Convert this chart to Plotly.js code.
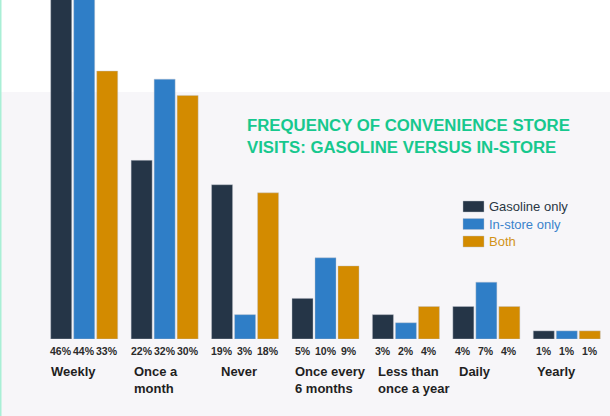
<!DOCTYPE html>
<html>
<head>
<meta charset="utf-8">
<script src="https://cdn.plot.ly/plotly-3.0.1.min.js"></script>
<style>
  html, body { margin: 0; padding: 0; background: #ffffff; }
  #chart { width: 610px; height: 416px; }
</style>
</head>
<body>
<div id="chart"></div>
<script>
// ---- data ----
const categories = ['Weekly', 'Once a month', 'Never', 'Once every 6 months', 'Less than once a year', 'Daily', 'Yearly'];
const categoryLabels = ['Weekly', 'Once a<br>month', 'Never', 'Once every<br>6 months', 'Less than<br>once a year', 'Daily', 'Yearly'];
const seriesNames = ['Gasoline only', 'In-store only', 'Both'];
const gasolineOnly = [46, 22, 19, 5, 3, 4, 1];
const inStoreOnly = [44, 32, 3, 10, 2, 7, 1];
const both = [33, 30, 18, 9, 4, 4, 1];
const chartTitle = 'FREQUENCY OF CONVENIENCE STORE<br>VISITS: GASOLINE VERSUS IN-STORE';

// ---- styles ----
const colors = ['#253547', '#2f7ec7', '#d38b00'];
const legendTextColors = ['#2a3644', '#3a83cc', '#d2931a'];
const font = 'Liberation Sans, Arial, sans-serif';
const labelShift = [-35, -33, -26, -33, -30, -29, -32];

const W = 610, H = 416;
const M = { l: 44, r: 3, t: 0, b: 77 };
const plotW = W - M.l - M.r, plotH = H - M.t - M.b;
const px2x = p => (p - M.l) / plotW;
const px2y = p => (M.t + plotH - p) / plotH;

const allSeries = [gasolineOnly, inStoreOnly, both];
const traces = allSeries.map((vals, j) => ({
  type: 'bar',
  name: seriesNames[j],
  x: categories,
  y: vals,
  marker: { color: colors[j], line: { width: 0.6, color: 'rgba(190,195,205,0.7)' } },
  hoverinfo: 'x+y+name',
  showlegend: false
}));

const annotations = [];
// percentage labels under each bar
allSeries.forEach((vals, j) => {
  vals.forEach((v, i) => {
    annotations.push({
      x: categories[i], y: 0, xref: 'x', yref: 'y',
      text: v + '%', showarrow: false,
      xanchor: 'center', yanchor: 'top',
      xshift: (j - 1) * 23, yshift: -4,
      font: { family: font, size: 10.5, color: '#2b2b2b', weight: 'bold' }
    });
  });
});
// category labels
categoryLabels.forEach((lab, i) => {
  annotations.push({
    x: categories[i], y: 0, xref: 'x', yref: 'y',
    text: '<b>' + lab + '</b>', showarrow: false,
    xanchor: 'left', yanchor: 'top', align: 'left',
    xshift: labelShift[i], yshift: -23,
    font: { family: font, size: 13, color: '#1f1f1f' }
  });
});
// legend labels
const legendRows = [201, 218.5, 236];
seriesNames.forEach((n, j) => {
  annotations.push({
    x: px2x(487), y: px2y(legendRows[j] + 5.5), xref: 'paper', yref: 'paper',
    text: n, showarrow: false, xanchor: 'left', yanchor: 'middle',
    font: { family: font, size: 13, color: legendTextColors[j] }
  });
});

const shapes = [
  // pale lower background panel
  { type: 'rect', xref: 'paper', yref: 'paper', x0: -0.2, x1: 1.2, y0: -0.5, y1: px2y(92),
    fillcolor: '#f7f6f9', line: { width: 0 }, layer: 'below' },
  // thin mint edge on the left
  { type: 'rect', xref: 'paper', yref: 'paper', x0: px2x(0), x1: px2x(1.5), y0: -0.5, y1: 1.2,
    fillcolor: '#a9efd6', line: { width: 0 }, layer: 'below' }
];
legendRows.forEach((r, j) => {
  shapes.push({
    type: 'rect', xref: 'paper', yref: 'paper',
    x0: px2x(463), x1: px2x(484), y0: px2y(r + 11), y1: px2y(r),
    fillcolor: colors[j], line: { width: 0.6, color: 'rgba(190,195,205,0.7)' }
  });
});

const layout = {
  width: W, height: H,
  margin: M,
  paper_bgcolor: '#ffffff',
  plot_bgcolor: 'rgba(0,0,0,0)',
  barmode: 'group',
  bargap: 0.142,
  bargroupgap: 0.087,
  showlegend: false,
  title: {
    text: chartTitle,
    x: 247 / W, xref: 'container', xanchor: 'left',
    y: 1 - 131 / H, yref: 'container', yanchor: 'top',
    font: { family: font, size: 16.8, color: '#17c88e', weight: 'bold' }
  },
  xaxis: { type: 'category', range: [-0.5, 6.5], showticklabels: false, showgrid: false, zeroline: false, showline: false, fixedrange: true },
  yaxis: { range: [0, 41.75], showticklabels: false, showgrid: false, zeroline: false, showline: false, fixedrange: true },
  annotations: annotations,
  shapes: shapes
};

Plotly.newPlot('chart', traces, layout, { displayModeBar: false, staticPlot: true });
</script>
</body>
</html>
